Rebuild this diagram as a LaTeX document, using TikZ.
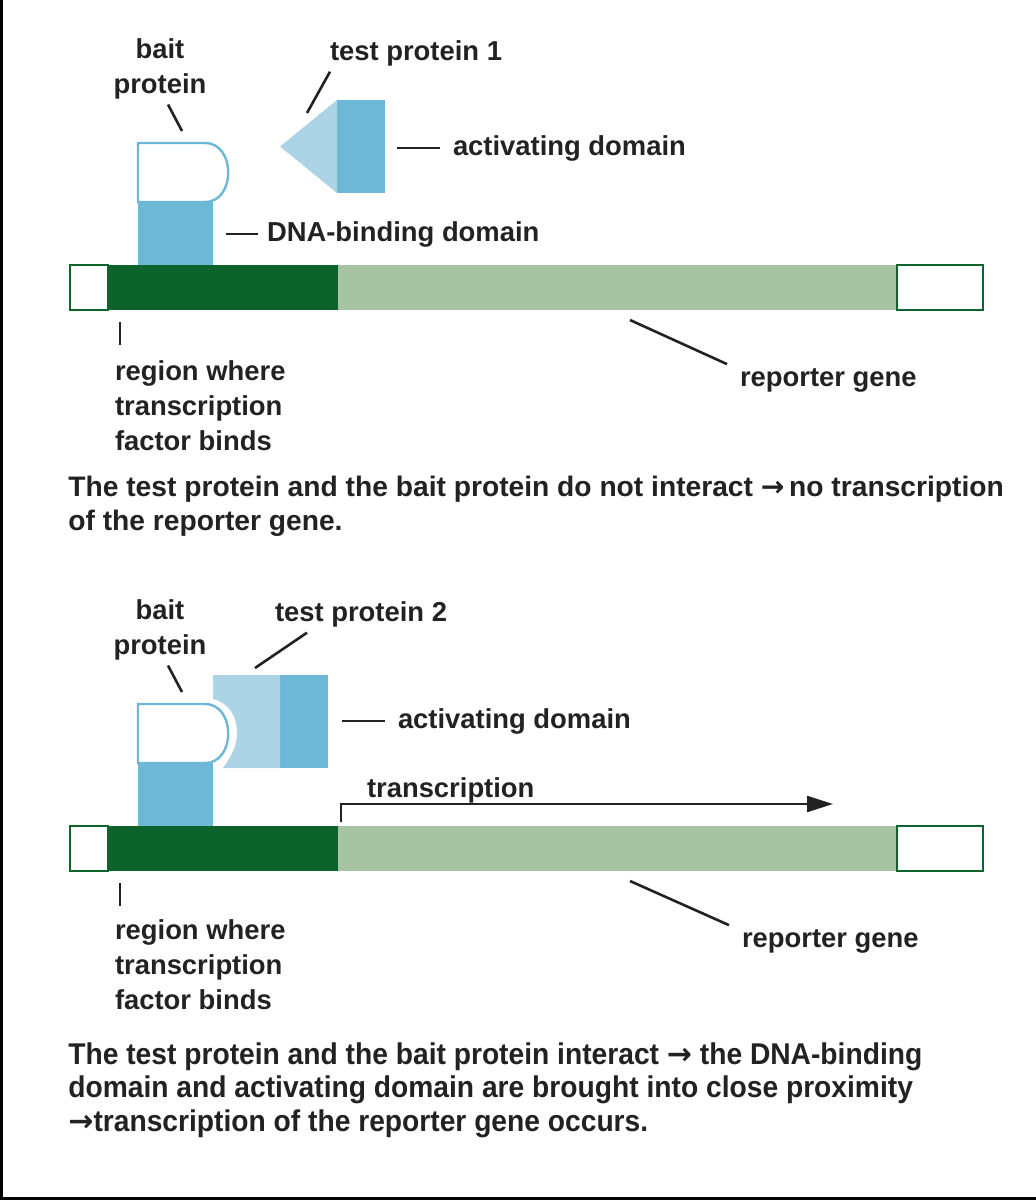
\documentclass[tikz,border=0pt]{standalone}
\usepackage{fontspec}
\setmainfont{Liberation Sans}
\newfontfamily\narrowfont[FakeStretch=0.94]{Liberation Sans}
\newfontfamily\arrowfont{DejaVu Sans}
\newcommand{\rarr}{{\arrowfont\bfseries →}}
\usetikzlibrary{arrows.meta}

\definecolor{genedark}{RGB}{12,100,44}
\definecolor{genelight}{RGB}{166,196,164}
\definecolor{domblue}{RGB}{108,184,214}
\definecolor{palblue}{RGB}{172,212,230}
\definecolor{inkgray}{RGB}{34,34,34}

\begin{document}
\begin{tikzpicture}[
  x=0.5pt, y=-0.5pt,
  lbl/.style={font=\fontsize{13.7}{17.5}\selectfont\bfseries, text=inkgray,
    inner sep=0pt, outer sep=0pt},
  capt/.style={font=\fontsize{14.1}{17}\selectfont\bfseries, text=inkgray,
    inner sep=0pt, align=left},
  captn/.style={font=\narrowfont\fontsize{15}{16.75}\selectfont\bfseries, text=inkgray,
    inner sep=0pt, align=left},
  ptr/.style={line width=1.3pt, inkgray},
  bindreg/.style={rectangle, fill=genedark, minimum width=115pt,
    minimum height=22.5pt, inner sep=0pt, outer sep=0pt},
  reporter/.style={rectangle, fill=genelight, minimum width=279.5pt,
    minimum height=22.5pt, inner sep=0pt, outer sep=0pt},
  geneend/.style={rectangle, draw=genedark, line width=1.4pt, fill=white,
    minimum height=22.5pt, inner sep=0pt, outer sep=0pt},
  dbd/.style={rectangle, fill=domblue, minimum width=37.5pt,
    minimum height=31.5pt, inner sep=0pt, outer sep=0pt},
  actdom/.style={rectangle, fill=domblue, minimum width=24pt,
    minimum height=46.5pt, inner sep=0pt, outer sep=0pt},
  baithead/.style={fill=white, draw=domblue, line width=1.2pt},
  testbody/.style={fill=palblue},
  txarrow/.style={-{Triangle[length=13pt, width=8pt]}, line width=1.2pt, inkgray},
]
\useasboundingbox (0,0) rectangle (1036,1200);

% frame
\draw[line width=1.6pt, black] (1.5,0) -- (1.5,1198.5) -- (1036,1198.5);

% Panel 1: no interaction
\node[bindreg, anchor=west] (bindA) at (108,287.5) {};
\node[reporter, anchor=west] (repA) at (bindA.east) {};
\node[geneend, minimum width=19pt, anchor=east] (endLA) at (bindA.west) {};
\node[geneend, minimum width=43pt, anchor=west] (endRA) at (repA.east) {};

\path[baithead] (138,202) -- (138,143) -- (205,143)
  .. controls (236,143) and (236,202) .. (205,202) -- cycle;
\node[dbd, anchor=south] (dbdA) at (175.5,265) {};

\node[actdom, anchor=north west] (actA) at (337,100) {};
\path[testbody] (280,146.5) -- (actA.north west) -- (actA.south west) -- cycle;

\node[lbl, align=center, anchor=north] (baitA) at (160,39) {bait\\protein};
\node[lbl, anchor=base west] (testA) at (330,60) {test protein 1};
\node[lbl, anchor=base west] (actlblA) at (453,155) {activating domain};
\node[lbl, anchor=base west] (dbdlblA) at (267,241) {DNA-binding domain};
\node[lbl, align=left, anchor=north west] (regA) at (115,361) {region where\\transcription\\factor binds};
\node[lbl, anchor=base west] (replblA) at (740,386) {reporter gene};

\coordinate (baittipA) at (182,131);
\coordinate (testtipA) at (307,113);
\draw[ptr] ([xshift=4pt, yshift=-2.5pt]baitA.south) -- (baittipA);
\draw[ptr] ([yshift=-3pt]testA.south west) -- (testtipA);
\draw[ptr] ([xshift=-6.5pt]actlblA.west) -- ([xshift=-28pt]actlblA.west);
\draw[ptr] ([xshift=-4.5pt]dbdlblA.west) -- ([xshift=-20.5pt]dbdlblA.west);
\draw[ptr] ([xshift=6pt, yshift=-6pt]bindA.south west) -- ([xshift=6pt, yshift=-17.5pt]bindA.south west);
\draw[ptr] ([xshift=6.25pt, yshift=-5pt]repA.south) -- ([xshift=-6.5pt, yshift=2pt]replblA.north west);

\node[capt, anchor=north west] (captA) at (68,476)
  {The test protein and the bait protein do not interact \rarr\,no transcription\\of the reporter gene.};

% Panel 2: interaction
\node[bindreg, anchor=west] (bindB) at (108,848.5) {};
\node[reporter, anchor=west] (repB) at (bindB.east) {};
\node[geneend, minimum width=19pt, anchor=east] (endLB) at (bindB.west) {};
\node[geneend, minimum width=43pt, anchor=west] (endRB) at (repB.east) {};

\path[baithead] (138,763) -- (138,704) -- (205,704)
  .. controls (236,704) and (236,763) .. (205,763) -- cycle;
\node[dbd, anchor=south] (dbdB) at (175.5,826) {};

\node[actdom, anchor=north west] (actB) at (280,675) {};
\path[testbody] (213,675) -- (actB.north west) -- (actB.south west) -- (223,768)
  .. controls (233,754) and (237,744) .. (237,733)
  .. controls (237,716) and (229,703) .. (213,699) -- cycle;

\node[lbl, align=center, anchor=north] (baitB) at (160,600) {bait\\protein};
\node[lbl, anchor=base west] (testB) at (275,621) {test protein 2};
\node[lbl, anchor=base west] (actlblB) at (398,728) {activating domain};
\node[lbl, anchor=base west] (txlbl) at (367,797) {transcription};
\node[lbl, align=left, anchor=north west] (regB) at (115,920) {region where\\transcription\\factor binds};
\node[lbl, anchor=base west] (replblB) at (742,947) {reporter gene};

\coordinate (baittipB) at (182,692);
\coordinate (testtipB) at (255,668);
\coordinate (txend) at (833,804);
\draw[ptr] ([xshift=4pt, yshift=-2.5pt]baitB.south) -- (baittipB);
\draw[ptr] ([xshift=16pt, yshift=-3pt]testB.south west) -- (testtipB);
\draw[ptr] ([xshift=-6.5pt]actlblB.west) -- ([xshift=-28pt]actlblB.west);
\draw[txarrow] ([xshift=1.5pt, yshift=2pt]bindB.north east) |- (txend);
\draw[ptr] ([xshift=6pt, yshift=-6pt]bindB.south west) -- ([xshift=6pt, yshift=-17.5pt]bindB.south west);
\draw[ptr] ([xshift=6.25pt, yshift=-5pt]repB.south) -- ([xshift=-6.5pt, yshift=2pt]replblB.north west);

\node[captn, anchor=north west] (captB) at (68,1042)
  {The test protein and the bait protein interact \rarr\ the DNA-binding\\
   domain and activating domain are brought into close proximity\\
   \rarr transcription of the reporter gene occurs.};

\end{tikzpicture}
\end{document}
